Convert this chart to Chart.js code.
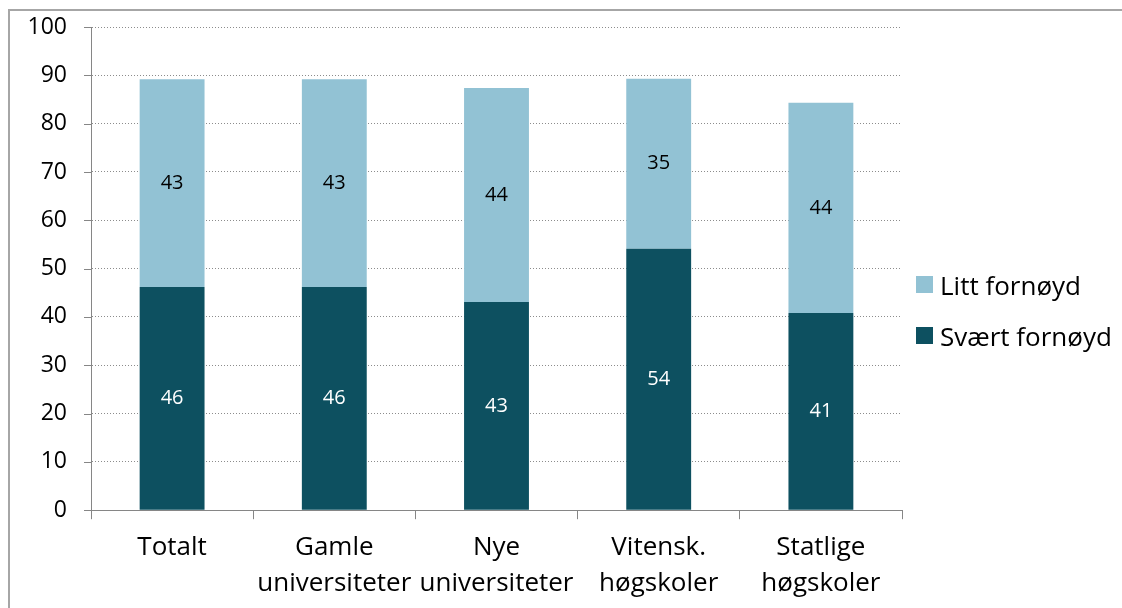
<!DOCTYPE html>
<html>
<head>
<meta charset="utf-8">
<script src="https://cdn.jsdelivr.net/npm/chart.js@4.4.1/dist/chart.umd.min.js"></script>
<style>
    html, body { margin: 0; padding: 0; background: #fff; }
    #wrap {
        position: absolute; left: 8px; top: 9px;
        width: 1114px; height: 599px;
        border-left: 2px solid #a6a6a6; border-top: 2px solid #a6a6a6;
    }
    canvas { display: block; }
    #legend {
        position: absolute; left: 916px; top: 259px;
        font-family: 'Open Sans', sans-serif; font-size: 26px; color: #000;
    }
    .item { display: flex; align-items: center; height: 51px; white-space: nowrap; }
    .box { width: 17px; height: 17px; margin-right: 7px; }
</style>
</head>
<body>
<div id="wrap"><canvas id="chart" width="1112" height="597"></canvas></div>
<div id="legend"></div>
<script>
// Data
const categories = [
    ['Totalt'],
    ['Gamle', 'universiteter'],
    ['Nye', 'universiteter'],
    ['Vitensk.', 'høgskoler'],
    ['Statlige', 'høgskoler']
];
const sværtFornøyd = [46.2, 46.2, 43.1, 54.1, 40.8];
const littFornøyd = [43.0, 43.0, 44.3, 35.2, 43.5];
const yTicks = { min: 0, max: 100, step: 10 };

const FONT = "'Open Sans', sans-serif";
const GREY = '#868686';

// Plugin: value labels centred in each bar segment
const valueLabels = {
    id: 'valueLabels',
    afterDatasetsDraw(chart) {
        const ctx = chart.ctx;
        ctx.save();
        ctx.font = '20px ' + FONT;
        ctx.textAlign = 'center';
        ctx.textBaseline = 'middle';
        chart.data.datasets.forEach((ds, i) => {
            chart.getDatasetMeta(i).data.forEach((bar, j) => {
                ctx.fillStyle = ds.labelColor;
                ctx.fillText(Math.round(ds.data[j]), bar.x, (bar.y + bar.base) / 2);
            });
        });
        ctx.restore();
    }
};

// Plugin: short solid tick marks left of the y axis
const yTickMarks = {
    id: 'yTickMarks',
    afterDraw(chart) {
        const y = chart.scales.y;
        const ctx = chart.ctx;
        ctx.save();
        ctx.strokeStyle = GREY;
        ctx.lineWidth = 1;
        y.ticks.forEach(t => {
            const py = Math.round(y.getPixelForValue(t.value)) + 0.5;
            ctx.beginPath();
            ctx.moveTo(y.right - 7, py);
            ctx.lineTo(y.right, py);
            ctx.stroke();
        });
        ctx.restore();
    }
};

const chart = new Chart(document.getElementById('chart'), {
    type: 'bar',
    data: {
        labels: categories,
        datasets: [{
            label: 'Svært fornøyd',
            data: sværtFornøyd,
            backgroundColor: '#0d5060',
            labelColor: '#ffffff',
            barPercentage: 0.4,
            categoryPercentage: 1
        }, {
            label: 'Litt fornøyd',
            data: littFornøyd,
            backgroundColor: '#92c2d4',
            labelColor: '#000000',
            barPercentage: 0.4,
            categoryPercentage: 1
        }]
    },
    options: {
        responsive: false,
        animation: false,
        layout: { padding: { left: 0, top: 0, right: 220, bottom: -4 } },
        plugins: {
            legend: { display: false },
            tooltip: { enabled: false }
        },
        scales: {
            x: {
                stacked: true,
                grid: { offset: true, drawOnChartArea: false, color: GREY, tickLength: 9 },
                border: { color: GREY, width: 1 },
                ticks: { font: { family: FONT, size: 26, lineHeight: 1.4 }, color: '#000', padding: 10, maxRotation: 0 }
            },
            y: {
                stacked: true,
                min: yTicks.min,
                max: yTicks.max,
                afterFit: (scale) => {
                    scale.width = 81;
                    scale.paddingTop = 16;
                },
                ticks: { stepSize: yTicks.step, font: { family: FONT, size: 23 }, color: '#000', padding: 24 },
                grid: { color: '#8c8c8c', drawTicks: false },
                border: { color: GREY, width: 1, dash: [1, 2] }
            }
        }
    },
    plugins: [valueLabels, yTickMarks]
});

// Legend (top series first)
const legend = document.getElementById('legend');
chart.data.datasets.slice().reverse().forEach(ds => {
    legend.insertAdjacentHTML('beforeend',
        `<div class="item"><span class="box" style="background:${ds.backgroundColor}"></span>${ds.label}</div>`);
});
</script>
</body>
</html>
